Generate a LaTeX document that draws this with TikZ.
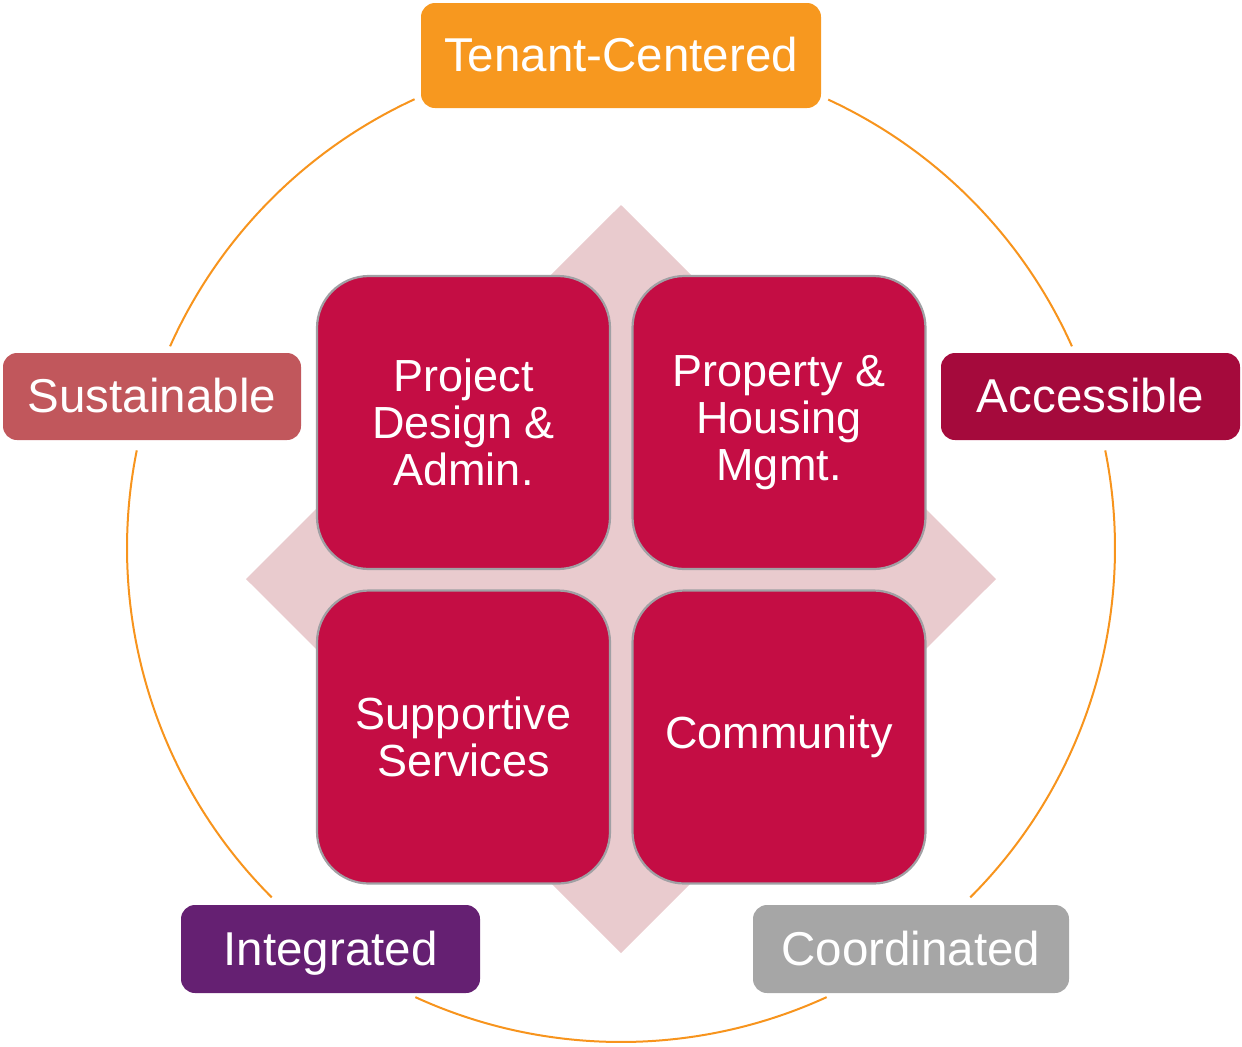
\documentclass[tikz,border=0pt]{standalone}
\usepackage{fontspec}
\setmainfont{Liberation Sans}
\definecolor{ringc}{RGB}{247,148,29}
\definecolor{diamc}{RGB}{233,203,206}
\definecolor{tilec}{RGB}{196,13,68}
\definecolor{tileb}{RGB}{160,160,164}
\definecolor{tenantc}{RGB}{247,152,31}
\definecolor{sustc}{RGB}{193,87,92}
\definecolor{accc}{RGB}{165,10,60}
\definecolor{integc}{RGB}{101,32,114}
\definecolor{coordc}{RGB}{166,166,166}
\tikzset{
  ringarc/.style={draw=ringc, line width=1pt},
  tilebox/.style={draw=tileb, line width=1.1pt, fill=tilec, rounded corners=26pt,
    minimum width=146.5pt, minimum height=146.5pt, align=center, text=white,
    font=\fontsize{22.5}{23.5}\selectfont, inner sep=0pt},
  labelbox/.style={rounded corners=7pt, text=white, inner sep=0pt,
    font=\fontsize{23.75}{26}\selectfont, text height=17pt, text depth=0.75pt},
}
\begin{document}
\begin{tikzpicture}[x=0.5pt,y=-0.5pt]
\useasboundingbox (0,0) rectangle (1242,1046);
\coordinate (c) at (621,548);
% ring arcs (visual angles, y up)
\draw[ringarc] (c) ++(-24.1:494) arc[start angle=24.1, end angle=65.2, radius=247pt];
\draw[ringarc] (c) ++(-114.7:494) arc[start angle=114.7, end angle=155.9, radius=247pt];
\draw[ringarc] (c) ++(-168.6:494) arc[start angle=168.6, end angle=225, radius=247pt];
\draw[ringarc] (c) ++(-245.4:494) arc[start angle=245.4, end angle=294.6, radius=247pt];
\draw[ringarc] (c) ++(45:494) arc[start angle=-45, end angle=11.4, radius=247pt];
% diamond
\fill[diamc] (621,205) -- (996,579) -- (621,953) -- (246,579) -- cycle;
% tiles
\node[tilebox] (pd) at (463.5,422.5) {Project\\Design \&\\Admin.};
\node[tilebox] (ph) at (779,422.5) {Property \&\\Housing\\Mgmt.};
\node[tilebox] (ss) at (463.5,737) {Supportive\\Services};
\node[tilebox] (cm) at (779,737) {Community};
% outer labels
\node[labelbox, fill=tenantc, minimum width=200pt, minimum height=52.5pt] (tc) at (621,55.5) {Tenant-Centered};
\node[labelbox, fill=sustc, minimum width=149pt, minimum height=43.5pt] (su) at (152,396.5) {Sustainable};
\node[labelbox, fill=accc, minimum width=149.5pt, minimum height=43.5pt] (ac) at (1090.5,396.5) {Accessible};
\node[labelbox, fill=integc, minimum width=149.5pt, minimum height=44pt] (ig) at (330.5,949) {Integrated};
\node[labelbox, fill=coordc, minimum width=158pt, minimum height=44pt] (co) at (911,949) {Coordinated};
\end{tikzpicture}
\end{document}
